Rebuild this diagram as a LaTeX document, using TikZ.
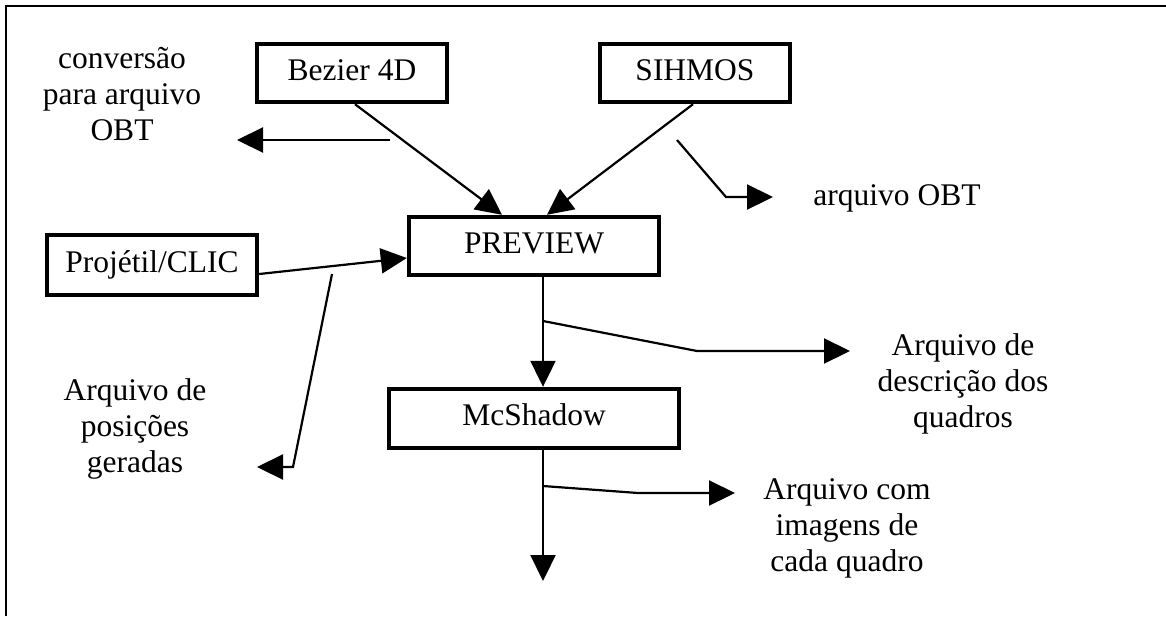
\documentclass[tikz,border=0pt]{standalone}
\usepackage{fontspec}
\setmainfont{Liberation Serif}
\usetikzlibrary{arrows.meta,calc}
\begin{document}
\begin{tikzpicture}[x=1pt,y=-1pt,
  every node/.style={font=\fontsize{31.5}{36}\selectfont},
  block/.style={draw,line width=4.4pt,inner sep=0pt,text height=22pt,text depth=8pt,minimum height=58pt},
  note/.style={align=center,inner sep=0pt},
  conn/.style={line width=2.2pt,-{Triangle[length=26pt,width=25pt]}},
  border/.style={line width=2.2pt}]
\useasboundingbox (0,0) rectangle (1166,616);
% partial frame: left and top edges
\draw[border] (6,616) -- (6,6) -- (1166,6);

% program blocks
\node[block,minimum width=190pt] (bez) at (352,73) {Bezier 4D};
\node[block,minimum width=190pt] (sih) at (695,73) {SIHMOS};
\node[block,minimum width=250pt] (prev) at (534,246) {PREVIEW};
\node[block,minimum width=210pt,minimum height=60pt] (proj) at (152,265) {Projétil/CLIC};
\node[block,minimum width=290pt,minimum height=59pt] (mcs) at (534,418.5) {McShadow};

% file descriptions
\node[note] (n1) at (122,97) {\strut conversão\\para arquivo\\OBT\strut};
\node[note] (n2) at (135,429) {\strut Arquivo de\\posições\\geradas\strut};
\node[note] (n3) at (963,384) {\strut Arquivo de\\descrição dos\\quadros\strut};
\node[note] (n4) at (847,528) {\strut Arquivo com\\imagens de\\cada quadro\strut};
\node[note] (n5) at (897,198) {\strut arquivo OBT};

% main flow
\draw[conn] ($(bez.south)+(3,0)$) -- ($(prev.north)+(-32,0)$);
\draw[conn] ($(sih.south)+(-2,0)$) -- ($(prev.north)+(13,0)$);
\draw[conn] ($(proj.east)+(0,9)$) -- ($(prev.west)+(0,12)$);
\draw[conn] ($(prev.south)+(9,0)$) -- ($(mcs.north)+(9,0)$);
\coordinate (out) at (543,581);
\draw[conn] ($(mcs.south)+(9,0)$) -- (out);

% side outputs
\coordinate (a1) at (390,140); \coordinate (a1e) at (237,140);
\draw[conn] (a1) -- (a1e);

\coordinate (b1) at (677,140); \coordinate (b2) at (726,197); \coordinate (b3) at (773,197);
\draw[conn] (b1) -- (b2) -- (b3);

\coordinate (p1) at (332,274); \coordinate (p2) at (293,467); \coordinate (p3) at (257,467);
\draw[conn] (p1) -- (p2) -- (p3);

\coordinate (d1) at (543,321); \coordinate (d2) at (697,351); \coordinate (d3) at (850,351);
\draw[conn] (d1) -- (d2) -- (d3);

\coordinate (e1) at (543,486); \coordinate (e2) at (638,493); \coordinate (e3) at (735,493);
\draw[conn] (e1) -- (e2) -- (e3);
\end{tikzpicture}
\end{document}
